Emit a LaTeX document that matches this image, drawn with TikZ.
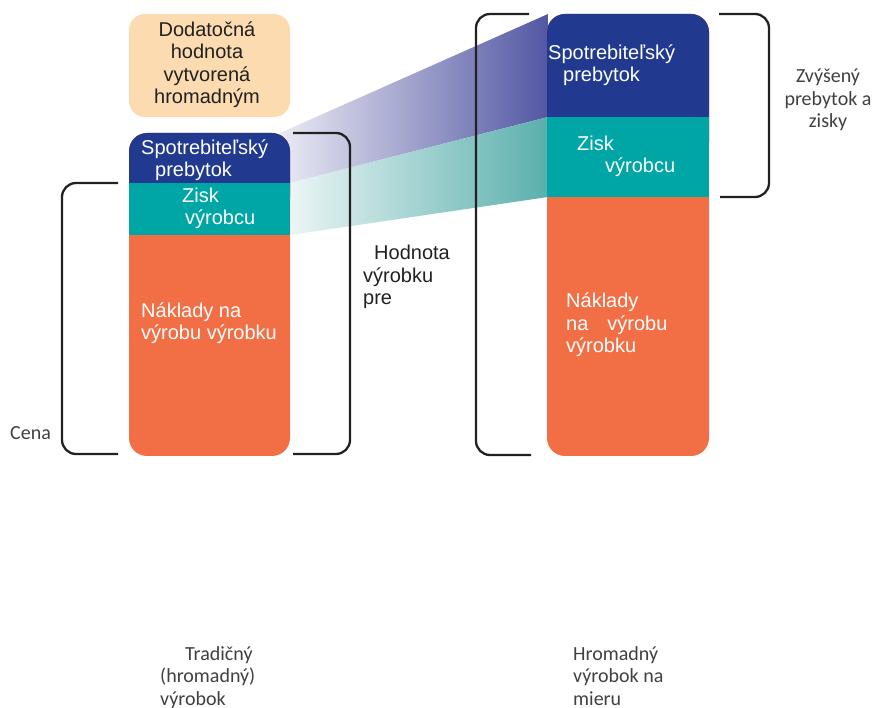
\documentclass[tikz,border=0pt]{standalone}
\usepackage{fontspec}
\setmainfont{Liberation Sans}
\newfontfamily\calibrifont{Carlito}
\usepackage{tikz}

\definecolor{surplusblue}{HTML}{213A8F}
\definecolor{profitteal}{HTML}{00A6A6}
\definecolor{costorange}{HTML}{F26F45}
\definecolor{extrapeach}{HTML}{FDDBB0}
\definecolor{labelgray}{HTML}{404040}
\definecolor{bandpurple}{HTML}{5357A3}
\definecolor{bandteal}{HTML}{5AAFAD}

\begin{document}
\begin{tikzpicture}[x=1pt, y=-1pt,
    bartext/.style={font=\fontsize{20}{22.5}\selectfont, text=white, align=left, anchor=base west, inner sep=0pt},
    blacktext/.style={font=\fontsize{20}{22.5}\selectfont, text=black!87, inner sep=0pt},
    note/.style={font=\calibrifont\fontsize{20}{22.5}\selectfont, text=labelgray, inner sep=0pt},
    bracket/.style={draw=black!87, line width=2.3pt, rounded corners=14pt}]
                \useasboundingbox (0,0) rectangle (876,708);

                % Bands
                \shade[left color=bandpurple!12, right color=bandpurple] (280,133) -- (548,14) -- (548,117) -- (290,183) -- cycle;
                \shade[left color=bandteal!12, right color=bandteal] (290,183) -- (548,117) -- (548,197) -- (290,235) -- cycle;

                % Columns
                \fill[extrapeach, rounded corners=16pt] (129,14) rectangle (290,117);
                \fill[costorange, rounded corners=18pt] (129,133) rectangle (290,456);
                \fill[surplusblue, rounded corners=18pt] (129,133) rectangle (290,215);
                \fill[profitteal] (129,183) rectangle (290,235);
                \fill[costorange, rounded corners=18pt] (547,14) rectangle (709,456);
                \fill[surplusblue, rounded corners=18pt] (547,14) rectangle (709,160);
                \fill[profitteal] (547,117) rectangle (709,197);

                % Brackets
                \draw[bracket] (118,183) -- (62,183) -- (62,454) -- (118,454);
                \draw[bracket] (293,133) -- (350,133) -- (350,454) -- (293,454);
                \draw[bracket] (529,14) -- (476,14) -- (476,455) -- (531,455);
                \draw[bracket] (719,14) -- (769,14) -- (769,197) -- (720,197);

                % Nodes (anchored at the baseline of the last line)
                \node[blacktext, align=center, anchor=base] (extra) at (207,104) {Dodatočná\\hodnota\\vytvorená\\hromadným};
                \node[bartext] (leftsurplus) at (141,177) {Spotrebiteľský\\\hspace*{14pt}prebytok};
                \node[bartext] (leftprofit) at (182,225) {Zisk\\\hspace*{3pt}výrobcu};
                \node[bartext] (leftcost) at (141,340) {Náklady na\\výrobu výrobku};
                \node[blacktext, align=left, anchor=base west] (value) at (363,305) {\hspace*{11pt}Hodnota\\výrobku\\pre};
                \node[bartext] (rightsurplus) at (548,82) {Spotrebiteľský\\\hspace*{15pt}prebytok};
                \node[bartext] (rightprofit) at (577,173) {Zisk\\\hspace*{28pt}výrobcu};
                \node[bartext] (rightcost) at (566,353) {Náklady\\na\hspace{19pt}výrobu\\výrobku};
                \node[note, align=center, anchor=base] (raised) at (828,128) {Zvýšený\\prebytok a\\zisky};
                \node[note, anchor=base west] (price) at (10,440) {Cena};
                \node[note, align=left, anchor=base west] (traditional) at (160,705) {\hspace*{25pt}Tradičný\\(hromadný)\\výrobok};
                \node[note, align=left, anchor=base west] (custom) at (573,705) {Hromadný\\výrobok na\\mieru};
            \end{tikzpicture}
\end{document}
